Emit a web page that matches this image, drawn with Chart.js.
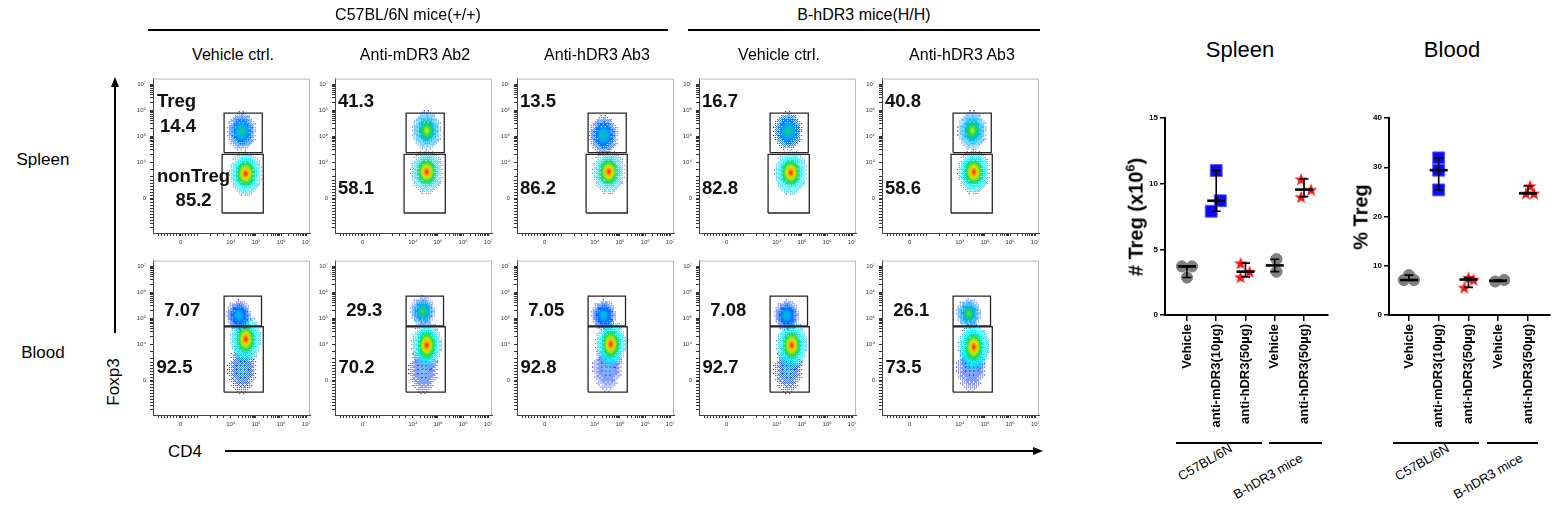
<!DOCTYPE html>
<html>
<head>
<meta charset="utf-8">
<script src="https://cdn.jsdelivr.net/npm/chart.js@4.4.1/dist/chart.umd.min.js"></script>
<style>
  body { margin: 0; background: #fff; width: 1567px; height: 511px; overflow: hidden; position: relative;
         font-family: 'Liberation Sans', Arial, sans-serif; color: #000; }
  .t { position: absolute; transform: translate(-50%, -50%); white-space: nowrap; }
  .ln { position: absolute; background: #000; }
  canvas { position: absolute; }
</style>
</head>
<body>
<script>
// ---- flow panels ----
const panelTitles = ['Vehicle ctrl.', 'Anti-mDR3 Ab2', 'Anti-hDR3 Ab3', 'Vehicle ctrl.', 'Anti-hDR3 Ab3'];
const strainHeaders = ['C57BL/6N mice(+/+)', 'B-hDR3 mice(H/H)'];
const tissueRows = ['Spleen', 'Blood'];
const gateNames = ['Treg', 'nonTreg'];

const spleenTreg = [14.4, 41.3, 13.5, 16.7, 40.8];
const spleenNonTreg = [85.2, 58.1, 86.2, 82.8, 58.6];
const bloodTreg = [7.07, 29.3, 7.05, 7.08, 26.1];
const bloodNonTreg = [92.5, 70.2, 92.8, 92.7, 73.5];

// biexponential display units: "0" and decades 10^4..10^7
const cd4Major = [2, 4, 5, 6, 7];
const foxp3Major = [2.6, 4, 5, 6, 7];
const flowTickLabels = ['0', '10⁴', '10⁵', '10⁶', '10⁷'];

// gates [x1, x2, y1, y2]
const spleenTregGate = [3.73, 5.25, 4.37, 5.89];
const spleenNonTregGate = [3.65, 5.29, 2.04, 4.30];
const bloodTregGate = [3.73, 5.22, 4.70, 5.85];
const bloodNonTregGate = [3.73, 5.29, 2.15, 4.67];

// density peaks [CD4, Foxp3, peak density]
const spleenTregPeak = [[4.43, 5.19, 0.45], [4.55, 5.22, 0.72], [4.35, 5.04, 0.4], [4.45, 5.2, 0.45], [4.5, 5.22, 0.7]];
const spleenNonTregPeak = [[4.59, 3.56, 1], [4.55, 3.63, 1], [4.55, 3.63, 1], [4.55, 3.6, 1], [4.55, 3.62, 1]];
const bloodTregPeak = [[4.31, 5.11, 0.35], [4.39, 5.26, 0.55], [4.35, 5.11, 0.35], [4.39, 5.11, 0.35], [4.35, 5.18, 0.6]];
const bloodNonTregPeak = [[4.59, 4.19, 1], [4.55, 3.96, 1], [4.63, 4.0, 1], [4.59, 3.96, 1], [4.55, 3.89, 1]];
const bloodNonTregTail = [[4.45, 3.0, 0.12], [4.42, 3.0, 0.12], [4.5, 3.1, 0.12], [4.45, 3.0, 0.12], [4.45, 3.1, 0.1]];

// ---- dot plots ----
const groupLabels = ['Vehicle', 'anti-mDR3(10µg)', 'anti-hDR3(50µg)', 'Vehicle', 'anti-hDR3(50µg)'];
const strainLabels = ['C57BL/6N', 'B-hDR3 mice'];
const spleenCounts = [[3.7, 3.7, 2.85], [11.0, 8.7, 7.9], [3.95, 3.3, 2.9], [4.25, 3.3], [10.35, 9.55, 9.0]];
const bloodPct = [[7.1, 8.1, 7.1], [31.9, 29.4, 25.4], [7.6, 7.2, 5.6], [6.8, 7.1], [26.2, 24.7, 24.7]];
const spleenJitter = [[-0.17, 0.17, 0], [0, 0.14, -0.17], [-0.17, 0.14, -0.17], [0.06, 0.06], [-0.1, 0.24, -0.1]];
const bloodJitter = [[-0.17, 0, 0.17], [0, 0, 0], [0, 0.17, -0.14], [-0.1, 0.2], [0.07, -0.07, 0.2]];
const spleenTicks = [0, 5, 10, 15];
const bloodTicks = [0, 10, 20, 30, 40];

Chart.defaults.font.family = "'Liberation Sans', Arial, sans-serif";
Chart.defaults.animation = false;
Chart.defaults.plugins.legend.display = false;
Chart.defaults.plugins.tooltip.enabled = false;

function addText(txt, x, y, css) {
  const d = document.createElement('div');
  d.className = 't';
  d.innerHTML = txt;
  d.style.left = x + 'px';
  d.style.top = y + 'px';
  Object.assign(d.style, css || {});
  document.body.appendChild(d);
  return d;
}
function addLine(x, y, w, h) {
  const d = document.createElement('div');
  d.className = 'ln';
  Object.assign(d.style, { left: x + 'px', top: y + 'px', width: w + 'px', height: h + 'px' });
  document.body.appendChild(d);
}
function addCanvas(x, y, w, h) {
  const c = document.createElement('canvas');
  c.width = w; c.height = h;
  Object.assign(c.style, { left: x + 'px', top: y + 'px', width: w + 'px', height: h + 'px' });
  document.body.appendChild(c);
  return c;
}

// pseudo-colour density map
const cmapStops = [[0, [0, 0, 255]], [0.25, [0, 170, 255]], [0.5, [30, 220, 70]], [0.7, [235, 240, 0]], [0.85, [255, 140, 0]], [1, [255, 0, 0]]];
function cmap(v, a) {
  for (let i = 1; i < cmapStops.length; i++) {
    const [v1, c1] = cmapStops[i];
    const [v0, c0] = cmapStops[i - 1];
    if (v <= v1) {
      const f = (v - v0) / (v1 - v0);
      const c = c0.map((k, j) => Math.round(k + (c1[j] - k) * f));
      return 'rgba(' + c.join(',') + ',' + a + ')';
    }
  }
  return 'rgba(255,0,0,' + a + ')';
}
// ordered dither so the cloud edges look like single events
const bayer = [0, 8, 2, 10, 12, 4, 14, 6, 3, 11, 1, 9, 15, 7, 13, 5];
function makeBlob(w, h, peak, maxAlpha) {
  const c = document.createElement('canvas');
  c.width = w; c.height = h;
  const g = c.getContext('2d');
  g.save();
  g.translate(w / 2, h / 2);
  g.scale(w / 2, h / 2);
  const grad = g.createRadialGradient(0, 0, 0, 0, 0, 1);
  for (let i = 0; i <= 10; i++) {
    const t = i / 10;
    const v = peak * Math.pow(1 - t, 1.3);
    const a = (t < 0.45 ? 1 : 1 - (t - 0.45) / 0.55 * 0.95) * maxAlpha;
    grad.addColorStop(t, cmap(v, a.toFixed(3)));
  }
  g.fillStyle = grad;
  g.beginPath();
  g.arc(0, 0, 1, 0, Math.PI * 2);
  g.fill();
  g.restore();
  const img = g.getImageData(0, 0, w, h);
  const d = img.data;
  for (let py = 0; py < h; py++) {
    for (let px = 0; px < w; px++) {
      const k = (py * w + px) * 4;
      if (d[k + 3] === 0) continue;
      const a = d[k + 3] / 255;
      const thr = (bayer[(py % 4) * 4 + (px % 4)] + 0.5) / 16;
      if (a > thr) {
        d[k] = Math.min(255, d[k] / a); d[k + 1] = Math.min(255, d[k + 1] / a); d[k + 2] = Math.min(255, d[k + 2] / a);
        d[k + 3] = 255;
      } else {
        d[k + 3] = 0;
      }
    }
  }
  g.putImageData(img, 0, 0);
  return c;
}
function makeStar(d, color) {
  const c = document.createElement('canvas');
  c.width = d; c.height = d;
  const g = c.getContext('2d');
  g.fillStyle = color;
  g.beginPath();
  for (let k = 0; k < 10; k++) {
    const r = k % 2 ? d * 0.2 : d * 0.5;
    const a = -Math.PI / 2 + k * Math.PI / 5;
    g.lineTo(d / 2 + r * Math.cos(a), d / 2 + d * 0.05 + r * Math.sin(a));
  }
  g.closePath();
  g.fill();
  return c;
}

// minor ticks: linear region round 0, then log minors per decade
function minorTicks(zero, lo) {
  const t = [];
  for (let v = lo; v < zero + 0.75; v += 0.12) t.push(+v.toFixed(3));
  [3.2, 3.45, 3.7].forEach(v => { if (v > zero + 0.75) t.push(v); });
  for (let d = 4; d < 7; d++) for (let k = 2; k <= 9; k++) t.push(d + Math.log10(k));
  return t;
}

const flowText = {
  id: 'flowText',
  afterDraw(chart, args, opts) {
    const { ctx, chartArea: a, scales: { x, y } } = chart;
    ctx.save();
    ctx.strokeStyle = '#b8b8b8';
    ctx.lineWidth = 1;
    ctx.beginPath();
    ctx.moveTo(a.left, a.top + 0.5);
    ctx.lineTo(a.right - 0.5, a.top + 0.5);
    ctx.lineTo(a.right - 0.5, a.bottom);
    ctx.stroke();
    ctx.fillStyle = '#111';
    ctx.font = "bold 18.5px 'Liberation Sans', Arial, sans-serif";
    ctx.textBaseline = 'middle';
    ctx.textAlign = 'left';
    opts.items.forEach(it => ctx.fillText(it.text, x.getPixelForValue(it.x), y.getPixelForValue(it.y)));
    ctx.restore();
  }
};

function rect(g) {
  return [{ x: g[0], y: g[2] }, { x: g[1], y: g[2] }, { x: g[1], y: g[3] }, { x: g[0], y: g[3] }, { x: g[0], y: g[2] }];
}

const panelLeft = [153, 335, 517, 699, 882];
const rowTop = [75, 257];

function flowPanel(row, col) {
  const spleen = row === 0;
  const cv = addCanvas(panelLeft[col] - 22, rowTop[row] - 4, 185, 182);
  const gates = spleen ? [spleenTregGate, spleenNonTregGate] : [bloodTregGate, bloodNonTregGate];
  const upper = spleen ? spleenTreg[col] : bloodTreg[col];
  const lower = spleen ? spleenNonTreg[col] : bloodNonTreg[col];
  let items;
  if (spleen && col === 0) {
    items = [
      { text: gateNames[0], x: 1.06, y: 6.33 }, { text: String(upper), x: 1.18, y: 5.37 },
      { text: gateNames[1], x: 1.06, y: 3.44 }, { text: String(lower), x: 1.8, y: 2.52 }
    ];
  } else if (spleen) {
    items = [{ text: String(upper), x: 1.02, y: 6.33 }, { text: String(lower), x: 1.02, y: 2.96 }];
  } else {
    items = [{ text: String(upper), x: 1.35, y: 5.3 }, { text: String(lower), x: 1.04, y: 3.07 }];
  }
  const gateStyle = { type: 'line', borderColor: '#262626', borderWidth: 1.3, pointRadius: 0, fill: false, tension: 0 };
  const datasets = [
    Object.assign({ data: rect(gates[0]) }, gateStyle),
    Object.assign({ data: rect(gates[1]) }, gateStyle)
  ];
  const blob = (p, w, h, a) => ({
    type: 'scatter', data: [{ x: p[0], y: p[1] }],
    pointStyle: makeBlob(w, h, p[2], a), pointRadius: 5
  });
  if (spleen) {
    datasets.push(blob(spleenTregPeak[col], 30, 40, 1));
    datasets.push(blob(spleenNonTregPeak[col], 34, 46, 1));
  } else {
    datasets.push(blob(bloodTregPeak[col], 26, 32, 1));
    datasets.push(blob(bloodNonTregPeak[col], 32, 50, 1));
    datasets.push(blob(bloodNonTregTail[col], 30, 50, 0.55));
  }
  const xTicks = cd4Major.concat(minorTicks(2, 1.1));
  const yTicks = foxp3Major.concat(minorTicks(2.6, 1.5));
  const label = (major) => (v) => { const i = major.indexOf(v); return i >= 0 ? flowTickLabels[i] : ''; };
  new Chart(cv, {
    type: 'scatter',
    data: { datasets },
    options: {
      responsive: false,
      layout: { padding: { top: 4, right: 4, left: 0, bottom: 0 } },
      scales: {
        x: {
          type: 'linear', min: 0.9, max: 7.15,
          afterBuildTicks: s => { s.ticks = xTicks.map(v => ({ value: v })); },
          afterFit: s => { s.height = 20; },
          ticks: { autoSkip: false, maxRotation: 0, font: { size: 6 }, color: '#333', padding: 3, callback: label(cd4Major) },
          grid: { drawOnChartArea: false, tickLength: 3, color: '#333', lineWidth: 1 },
          border: { color: '#444', width: 1 }
        },
        y: {
          type: 'linear', min: 1.27, max: 7.22,
          afterBuildTicks: s => { s.ticks = yTicks.map(v => ({ value: v })); },
          afterFit: s => { s.width = 22; },
          ticks: { autoSkip: false, font: { size: 6 }, color: '#333', padding: 4, callback: label(foxp3Major) },
          grid: { drawOnChartArea: false, tickLength: 3, color: '#333', lineWidth: 1 },
          border: { color: '#444', width: 1 }
        }
      },
      plugins: { flowText: { items } }
    },
    plugins: [flowText]
  });
}

for (let r = 0; r < 2; r++) for (let c = 0; c < 5; c++) flowPanel(r, c);

// headers, arrows, row labels
addText(strainHeaders[0], 408, 15, { fontSize: '16px' });
addLine(148, 29, 520, 1.6);
addText(strainHeaders[1], 864, 15, { fontSize: '16px' });
addLine(688, 29, 352, 1.6);
panelTitles.forEach((t, i) => addText(t, panelLeft[i] + 80, 55, { fontSize: '16px' }));
addText(tissueRows[0], 43, 160, { fontSize: '17px' });
addText(tissueRows[1], 43, 353, { fontSize: '17px' });
addText('Foxp3', 114, 382, { fontSize: '17px', transform: 'translate(-50%,-50%) rotate(-90deg)' });
addText('CD4', 185, 452, { fontSize: '17px' });
addLine(114, 86, 2, 247);
addText('', 115, 82, { width: 0, height: 0, borderLeft: '4.5px solid transparent', borderRight: '4.5px solid transparent', borderBottom: '10px solid #000' });
addLine(225, 450, 810, 2);
addText('', 1038, 451, { width: 0, height: 0, borderTop: '4.5px solid transparent', borderBottom: '4.5px solid transparent', borderLeft: '10px solid #000' });

// ---- dot plots ----
const medianRange = {
  id: 'medianRange',
  afterDatasetsDraw(chart, args, opts) {
    const { ctx, scales: { x, y } } = chart;
    ctx.save();
    ctx.strokeStyle = '#000';
    opts.values.forEach((vals, i) => {
      const s = [...vals].sort((a, b) => a - b);
      const n = s.length;
      const med = n % 2 ? s[(n - 1) / 2] : (s[n / 2 - 1] + s[n / 2]) / 2;
      const cx = x.getPixelForValue(i + 1);
      const yMin = y.getPixelForValue(s[0]), yMax = y.getPixelForValue(s[n - 1]), yMed = y.getPixelForValue(med);
      ctx.lineWidth = 1.6;
      ctx.beginPath();
      ctx.moveTo(cx, yMin); ctx.lineTo(cx, yMax);
      ctx.moveTo(cx - 4.5, yMin); ctx.lineTo(cx + 4.5, yMin);
      ctx.moveTo(cx - 4.5, yMax); ctx.lineTo(cx + 4.5, yMax);
      ctx.stroke();
      ctx.lineWidth = 2.6;
      ctx.beginPath();
      ctx.moveTo(cx - 9, yMed); ctx.lineTo(cx + 9, yMed);
      ctx.stroke();
    });
    ctx.restore();
  }
};

const redStar = makeStar(14, '#ff1010');
const groupStyle = [
  { pointStyle: 'circle', pointRadius: 5.6, backgroundColor: '#808080', borderColor: '#808080' },
  { pointStyle: 'rect', pointRadius: 8.4, backgroundColor: '#0a0af5', borderColor: '#5a5aff', borderWidth: 1 },
  { pointStyle: redStar, pointRadius: 5 },
  { pointStyle: 'circle', pointRadius: 5.6, backgroundColor: '#808080', borderColor: '#808080' },
  { pointStyle: redStar, pointRadius: 5 }
];

function dotPlot(left, xMin, xMax, values, jitter, ticks, width) {
  const cv = addCanvas(left, 108, width, 332);
  const datasets = values.map((vals, i) => Object.assign({
    data: vals.map((v, j) => ({ x: i + 1 + jitter[i][j], y: v }))
  }, groupStyle[i]));
  new Chart(cv, {
    type: 'scatter',
    data: { datasets },
    options: {
      responsive: false,
      layout: { padding: { top: 10, right: 10, left: 0, bottom: 0 } },
      scales: {
        x: {
          type: 'linear', min: xMin, max: xMax,
          afterBuildTicks: s => { s.ticks = groupLabels.map((g, i) => ({ value: i + 1 })); },
          afterFit: s => { s.height = 125; },
          ticks: { autoSkip: false, minRotation: 90, maxRotation: 90, padding: 3, color: '#000',
                   font: { size: 13, weight: 'bold' }, callback: v => groupLabels[v - 1] },
          grid: { drawOnChartArea: false, tickLength: 6, color: '#000', lineWidth: 1.5 },
          border: { color: '#000', width: 2 }
        },
        y: {
          type: 'linear', min: ticks[0], max: ticks[ticks.length - 1],
          afterBuildTicks: s => { s.ticks = ticks.map(v => ({ value: v })); },
          afterFit: s => { s.width = 30; },
          ticks: { color: '#000', padding: 2, font: { size: 8, weight: 'bold' } },
          grid: { drawOnChartArea: false, tickLength: 5, color: '#000', lineWidth: 1.5 },
          border: { color: '#000', width: 2 }
        }
      },
      plugins: { medianRange: { values } }
    },
    plugins: [medianRange]
  });
}

dotPlot(1135, 0.25, 5.82, spleenCounts, spleenJitter, spleenTicks, 203);
dotPlot(1359, 0.33, 5.74, bloodPct, bloodJitter, bloodTicks, 201);

addText(tissueRows[0], 1240, 50, { fontSize: '22px' });
addText(tissueRows[1], 1452, 50, { fontSize: '22px' });
addText('# Treg (x10<sup style="font-size:13px">6</sup>)', 1135, 217,
  { fontSize: '20px', fontWeight: 'bold', transform: 'translate(-50%,-50%) rotate(-90deg)' });
addText('% Treg', 1361, 217, { fontSize: '20px', fontWeight: 'bold', transform: 'translate(-50%,-50%) rotate(-90deg)' });
[[1176, 86, 1205], [1269, 53, 1268], [1393, 86, 1422], [1487, 51, 1488]].forEach(([x, w, lx], i) => {
  addLine(x, 442, w, 2);
  addText(strainLabels[i % 2], lx, i % 2 ? 476 : 462, { fontSize: '13px', transform: 'translate(-50%,-50%) rotate(-30deg)' });
});
</script>
</body>
</html>
